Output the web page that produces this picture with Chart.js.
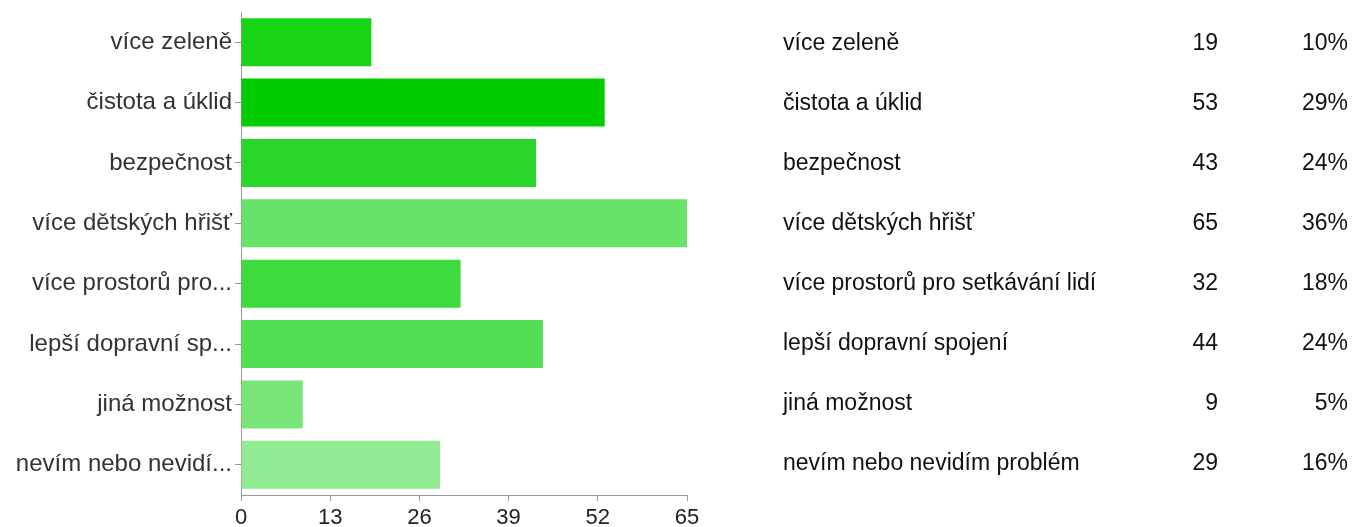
<!DOCTYPE html>
<html>
<head>
<meta charset="utf-8">
<script src="https://cdn.jsdelivr.net/npm/chart.js@4.4.1/dist/chart.umd.min.js"></script>
<style>
  html, body { margin: 0; padding: 0; background: #fff; }
  body { width: 1358px; height: 527px; position: relative; overflow: hidden; font-family: "Liberation Sans", Arial, sans-serif; }
  #wrap { position: absolute; left: 0; top: 0; width: 700px; height: 527px; }
  #table { position: absolute; left: 0; top: 0; width: 1358px; height: 527px; pointer-events: none; }
  .cell { position: absolute; font-size: 23px; color: #111; line-height: 26px; white-space: nowrap; }
</style>
</head>
<body>
<div id="wrap"><canvas id="c"></canvas></div>
<div id="table"></div>
<script>
const axisLabels = ["více zeleně", "čistota a úklid", "bezpečnost", "více dětských hřišť", "více prostorů pro...", "lepší dopravní sp...", "jiná možnost", "nevím nebo nevidí..."];
const fullLabels = ["více zeleně", "čistota a úklid", "bezpečnost", "více dětských hřišť", "více prostorů pro setkávání lidí", "lepší dopravní spojení", "jiná možnost", "nevím nebo nevidím problém"];
const counts = [19, 53, 43, 65, 32, 44, 9, 29];
const percents = ["10%", "29%", "24%", "36%", "18%", "24%", "5%", "16%"];
const xTicks = [0, 13, 26, 39, 52, 65];
const barColors = ["#17d417", "#00cc00", "#2ad62a", "#68e268", "#3ddb3d", "#53df53", "#7ae67a", "#92eb92"];

const ctx = document.getElementById('c');
new Chart(ctx, {
  type: 'bar',
  data: {
    labels: axisLabels,
    datasets: [{
      data: counts,
      backgroundColor: barColors,
      borderWidth: 0,
      barPercentage: 0.795,
      categoryPercentage: 1.0
    }]
  },
  options: {
    indexAxis: 'y',
    responsive: true,
    maintainAspectRatio: false,
    animation: false,
    layout: { padding: { top: 12, left: 0, right: 0, bottom: 0 } },
    plugins: { legend: { display: false }, tooltip: { enabled: false } },
    scales: {
      x: {
        min: 0, max: 65,
        afterBuildTicks: (s) => { s.ticks = xTicks.map(v => ({ value: v })); },
        afterFit: (s) => { s.height = 32; s.paddingLeft = 0; s.paddingRight = 13; },
        grid: { drawOnChartArea: false, drawTicks: true, tickLength: 6, color: '#999' },
        border: { display: true, color: '#999', width: 1 },
        ticks: { color: '#222', font: { family: '"Liberation Sans", Arial, sans-serif', size: 22, lineHeight: 1 }, padding: 6, maxRotation: 0, autoSkip: false }
      },
      y: {
        afterFit: (s) => { s.width = 241; s.paddingTop = 0; s.paddingBottom = 0; },
        grid: { drawOnChartArea: false, drawTicks: true, tickLength: 6, offset: false, color: '#999' },
        border: { display: true, color: '#999', width: 1 },
        ticks: { color: '#333', font: { family: '"Liberation Sans", Arial, sans-serif', size: 24 }, padding: 3, autoSkip: false }
      }
    }
  }
});

const tbl = document.getElementById('table');
const rowTop = 42, rowStep = 60;
fullLabels.forEach((lab, i) => {
  const y = rowTop + i * rowStep - 13;
  const a = document.createElement('div');
  a.className = 'cell'; a.textContent = lab; a.style.left = '783px'; a.style.top = y + 'px';
  tbl.appendChild(a);
  const b = document.createElement('div');
  b.className = 'cell'; b.textContent = String(counts[i]); b.style.right = (1358 - 1218) + 'px'; b.style.top = y + 'px';
  tbl.appendChild(b);
  const c = document.createElement('div');
  c.className = 'cell'; c.textContent = percents[i]; c.style.right = (1358 - 1348) + 'px'; c.style.top = y + 'px';
  tbl.appendChild(c);
});
</script>
</body>
</html>
